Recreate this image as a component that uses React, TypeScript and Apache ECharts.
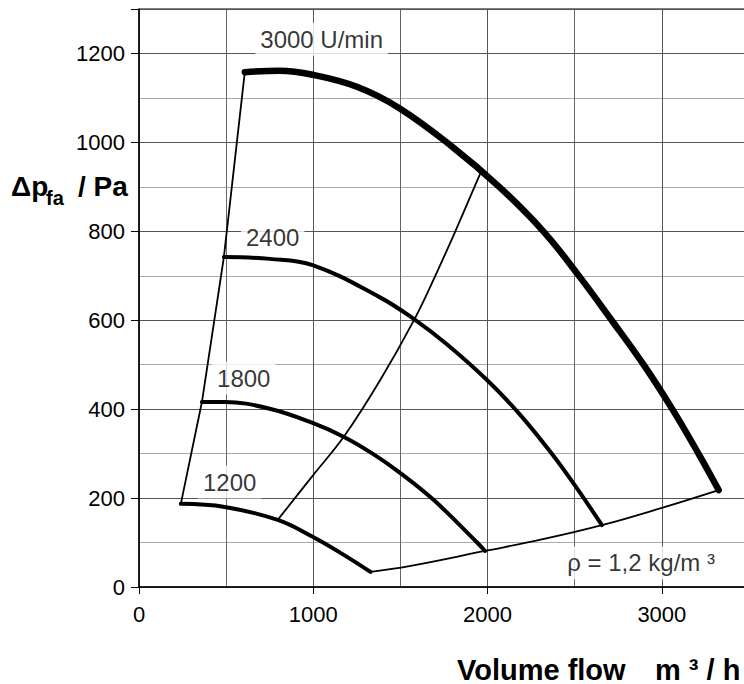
import React, { useEffect, useRef } from "react";
import * as echarts from "echarts";

// Axis ticks
const xTickValues = [0, 1000, 2000, 3000];
const yTickValues = [0, 200, 400, 600, 800, 1000, 1200];

// Fan curves (volume flow m³/h, pressure Pa)
const curve3000: [number, number][] = [
  [607, 1158], [807, 1161], [996, 1152], [1250, 1125], [1494, 1077], [1798, 990],
  [2067, 900], [2320, 800], [2520, 702], [2712, 600], [2895, 500], [3060, 400],
  [3210, 300], [3326, 218],
];
const curve2400: [number, number][] = [
  [487, 742], [750, 738], [996, 724], [1380, 652], [1580, 602], [1763, 547],
  [1998, 465], [2181, 390], [2370, 299], [2525, 215], [2656, 139],
];
const curve1800: [number, number][] = [
  [361, 416], [492, 416], [750, 401], [996, 369], [1179, 337], [1340, 300],
  [1494, 258], [1690, 196], [1940, 100], [1985, 81],
];
const curve1200: [number, number][] = [
  [240, 187], [492, 180], [796, 151], [996, 113], [1168, 74], [1328, 34],
];

// System curves and envelope (thin lines)
const systemLower: [number, number][] = [
  [1328, 34], [1551, 47], [1985, 81], [2324, 108], [2656, 139], [3000, 178], [3326, 218],
];
const systemMiddle: [number, number][] = [
  [796, 151], [996, 250], [1179, 340], [1385, 466], [1580, 602], [1700, 700],
  [1815, 800], [1925, 900], [1965, 936],
];
const leftEnvelope: [number, number][] = [
  [240, 187], [361, 416], [487, 742], [607, 1158],
];

// Curve labels
const labelTexts = ["3000 U/min", "2400", "1800", "1200", "ρ = 1,2 kg/m ³"];
const labelPositions: [number, number][] = [
  [1048, 1232], [767, 787], [601, 470], [520, 236], [2881, 54],
];

const FONT = "'Liberation Sans', Arial, Helvetica, sans-serif";

export default function App() {
  const ref = useRef<HTMLDivElement>(null);

  useEffect(() => {
    const chart = echarts.init(ref.current!, null, { renderer: "svg" });

    const lineSeries = (data: [number, number][], width: number, smooth: boolean | number) => ({
      type: "line",
      data,
      xAxisIndex: 0,
      yAxisIndex: 0,
      symbol: "none",
      smooth,
      clip: false,
      lineStyle: { color: "#000", width, cap: "round", join: "round" },
      z: 5,
    });

    const option: any = {
      animation: false,
      backgroundColor: "#fff",
      grid: {
        left: 139,
        top: 9,
        right: 2,
        bottom: 97,
        show: true,
        borderColor: "#000",
        borderWidth: 1,
        backgroundColor: "#fff",
      },
      xAxis: [
        {
          type: "value",
          min: 0,
          max: 3500,
          interval: 1000,
          position: "bottom",
          axisLine: { show: true, onZero: false, lineStyle: { color: "#000", width: 1.5 } },
          axisTick: { show: true, length: 7, lineStyle: { color: "#000", width: 1 } },
          axisLabel: {
            show: true,
            margin: 16,
            fontSize: 22,
            color: "#000",
            fontFamily: FONT,
            formatter: (v: number) => (xTickValues.includes(v) ? String(v) : ""),
          },
          splitLine: { show: true, lineStyle: { color: "#555", width: 1 } },
          z: 3,
        },
        {
          type: "value",
          min: 0,
          max: 3500,
          interval: 500,
          position: "top",
          axisLine: { show: false },
          axisTick: { show: false },
          axisLabel: { show: false },
          splitLine: { show: true, lineStyle: { color: "#666", width: 1 } },
          z: 2,
        },
      ],
      yAxis: [
        {
          type: "value",
          min: 0,
          max: 1300,
          interval: 200,
          axisLine: { show: true, onZero: false, lineStyle: { color: "#000", width: 1.5 } },
          axisTick: { show: true, length: 8, lineStyle: { color: "#000", width: 1 } },
          axisLabel: {
            show: true,
            margin: 14,
            fontSize: 22,
            color: "#000",
            fontFamily: FONT,
            formatter: (v: number) => (yTickValues.includes(v) ? String(v) : ""),
          },
          splitLine: { show: true, lineStyle: { color: "#555", width: 1 } },
          z: 3,
        },
        {
          type: "value",
          min: 0,
          max: 1300,
          interval: 100,
          position: "right",
          axisLine: { show: false },
          axisTick: { show: false },
          axisLabel: { show: false },
          splitLine: { show: true, lineStyle: { color: "#aaa", width: 1 } },
          z: 2,
        },
      ],
      series: [
        lineSeries(leftEnvelope, 1.8, false),
        lineSeries(systemLower, 1.8, 0.4),
        lineSeries(systemMiddle, 1.8, 0.4),
        lineSeries(curve1200, 4, 0.4),
        lineSeries(curve1800, 4, 0.4),
        lineSeries(curve2400, 4, 0.4),
        lineSeries(curve3000, 6.5, 0.4),
        {
          type: "scatter",
          xAxisIndex: 0,
          yAxisIndex: 0,
          symbolSize: 0,
          itemStyle: { color: "transparent" },
          z: 10,
          data: labelPositions.map((p, i) => ({
            value: p,
            label: { formatter: labelTexts[i] },
          })),
          label: {
            show: true,
            position: "inside",
            fontSize: 24,
            color: "#000",
            fontFamily: FONT,
            backgroundColor: "#fff",
            padding: [4, 5, 5, 5],
          },
        },
      ],
      graphic: [
        {
          type: "text",
          left: 11,
          top: 172,
          style: { text: "Δp", font: `bold 28px ${FONT}`, fill: "#000" },
        },
        {
          type: "text",
          left: 46,
          top: 188,
          style: { text: "fa", font: `bold 20px ${FONT}`, fill: "#000" },
        },
        {
          type: "text",
          left: 78,
          top: 172,
          style: { text: "/ Pa", font: `bold 28px ${FONT}`, fill: "#000" },
        },
        {
          type: "text",
          left: 457,
          top: 655,
          style: { text: "Volume flow", font: `bold 29px ${FONT}`, fill: "#000" },
        },
        {
          type: "text",
          left: 655,
          top: 655,
          style: { text: "m ³ / h", font: `bold 29px ${FONT}`, fill: "#000" },
        },
      ],
    };

    chart.setOption(option);
    return () => chart.dispose();
  }, []);

  return (
    <div
      ref={ref}
      style={{ position: "fixed", left: 0, top: 0, width: 752, height: 684, background: "#fff" }}
    />
  );
}
